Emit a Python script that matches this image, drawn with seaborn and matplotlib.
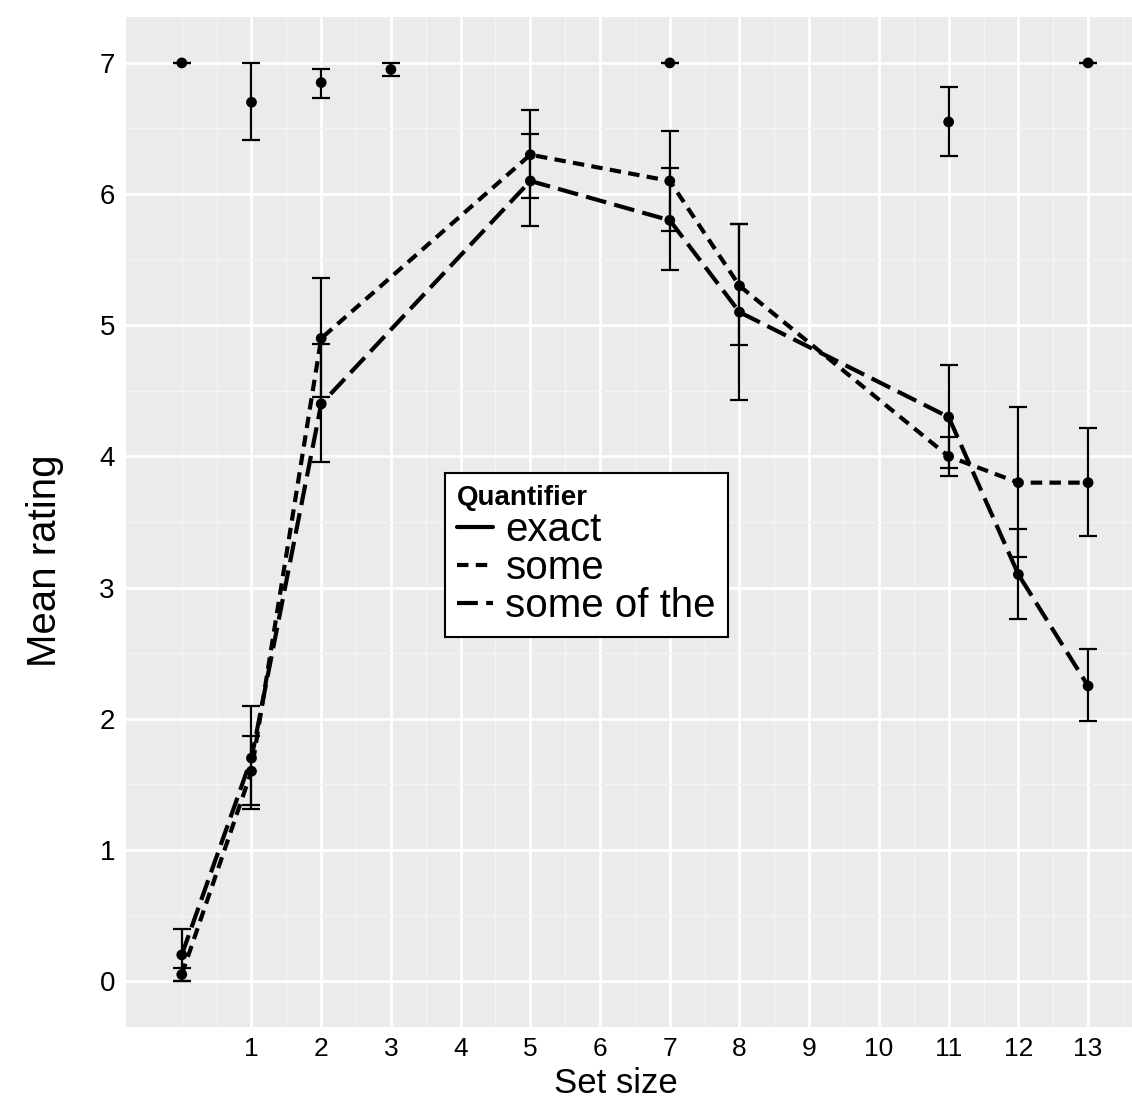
import numpy as np
import pandas as pd
import matplotlib
matplotlib.use("Agg")
import matplotlib.pyplot as plt
import seaborn as sns
from matplotlib.lines import Line2D
from matplotlib.ticker import FixedLocator

sns.set_style("white")
plt.rcParams["font.family"] = ["Liberation Sans", "DejaVu Sans"]
plt.rcParams["text.color"] = "black"
plt.rcParams["axes.labelcolor"] = "black"

# ---------------------------------------------------------------
# data (mean rating + error bar ends)
# ---------------------------------------------------------------
exact_sizes = [0, 1, 2, 3, 7, 11, 13]
exact_mean = [7.0, 6.7, 6.85, 6.95, 7.0, 6.55, 7.0]
exact_lo = [7.0, 6.41, 6.73, 6.9, 7.0, 6.29, 7.0]
exact_hi = [7.0, 7.0, 6.95, 7.0, 7.0, 6.82, 7.0]

set_sizes = [0, 1, 2, 5, 7, 8, 11, 12, 13]
some_mean = [0.05, 1.6, 4.9, 6.3, 6.1, 5.3, 4.0, 3.8, 3.8]
some_lo = [0.0, 1.34, 4.45, 5.97, 5.72, 4.85, 3.85, 3.23, 3.39]
some_hi = [0.1, 1.87, 5.36, 6.64, 6.48, 5.77, 4.15, 4.38, 4.22]
sot_mean = [0.2, 1.7, 4.4, 6.1, 5.8, 5.1, 4.3, 3.1, 2.25]
sot_lo = [0.0, 1.31, 3.96, 5.76, 5.42, 4.43, 3.91, 2.76, 1.98]
sot_hi = [0.4, 2.1, 4.86, 6.46, 6.2, 5.77, 4.70, 3.45, 2.53]

x_ticks = list(range(1, 14))
y_ticks = list(range(0, 8))

df = pd.concat([
    pd.DataFrame({"size": exact_sizes, "rating": exact_mean, "lo": exact_lo,
                  "hi": exact_hi, "quantifier": "exact"}),
    pd.DataFrame({"size": set_sizes, "rating": some_mean, "lo": some_lo,
                  "hi": some_hi, "quantifier": "some"}),
    pd.DataFrame({"size": set_sizes, "rating": sot_mean, "lo": sot_lo,
                  "hi": sot_hi, "quantifier": "some of the"}),
], ignore_index=True)

dash_styles = {"exact": "", "some": (2.75, 1.75), "some of the": (5, 2)}

# ---------------------------------------------------------------
# plot
# ---------------------------------------------------------------
fig = plt.figure(figsize=(11.32, 11.06), dpi=100)
ax = fig.add_axes([126 / 1132, 1 - 1027 / 1106, 1006 / 1132, 1010 / 1106])
ax.set_facecolor("#EBEBEB")

lines_df = df[df["quantifier"] != "exact"]
sns.lineplot(data=lines_df, x="size", y="rating", style="quantifier",
             dashes={k: dash_styles[k] for k in ["some", "some of the"]},
             color="black", linewidth=3.0, legend=False, ax=ax, zorder=3)

for q, sub in df.groupby("quantifier"):
    ax.errorbar(sub["size"], sub["rating"],
                yerr=[sub["rating"] - sub["lo"], sub["hi"] - sub["rating"]],
                fmt="none", ecolor="black", elinewidth=1.6,
                capsize=6.5, capthick=1.6, zorder=4)

sns.scatterplot(data=df, x="size", y="rating", color="black", s=60,
                edgecolor="none", legend=False, ax=ax, zorder=5)

# axes, grid
ax.set_xlim(-0.8, 13.63)
ax.set_ylim(-0.35, 7.35)
ax.set_xticks(x_ticks)
ax.set_yticks(y_ticks)
ax.xaxis.set_minor_locator(FixedLocator(np.arange(0, 14, 0.5)))
ax.yaxis.set_minor_locator(FixedLocator(np.arange(0.5, 7, 1.0)))
ax.grid(which="major", color="white", linewidth=2.0)
ax.grid(which="minor", color="#F4F4F4", linewidth=1.0)
ax.set_axisbelow(True)
for s in ax.spines.values():
    s.set_visible(False)
ax.tick_params(which="major", length=5, width=1.2, color="#7F7F7F",
               labelsize=20, labelcolor="black", pad=3)
ax.tick_params(axis="x", labelsize=19, pad=2)
ax.tick_params(which="minor", length=0)

ax.set_xlabel("Set size", fontsize=25)
ax.set_ylabel("Mean rating", fontsize=29)
ax.xaxis.set_label_coords(0.487, -0.0395)
ax.yaxis.set_label_coords(-0.062, 0.462)

# legend
handles = [Line2D([], [], color="black", linewidth=3.0, linestyle="-"),
           Line2D([], [], color="black", linewidth=3.0, dashes=dash_styles["some"]),
           Line2D([], [], color="black", linewidth=3.0, dashes=dash_styles["some of the"])]
leg = ax.legend(handles, ["exact", "some", "some of the"], title="Quantifier",
                loc="upper left", bbox_to_anchor=(445 / 1132, 1 - 473 / 1106),
                bbox_transform=fig.transFigure, fontsize=29,
                title_fontproperties={"weight": "bold", "size": 20},
                frameon=True, fancybox=False, framealpha=1, edgecolor="black",
                handlelength=0.9, handletextpad=0.3, labelspacing=0.0,
                borderpad=0.3, borderaxespad=0)
leg.get_frame().set_linewidth(1.5)
leg._legend_box.align = "left"

plt.savefig("out.png", dpi=100)
plt.close()
